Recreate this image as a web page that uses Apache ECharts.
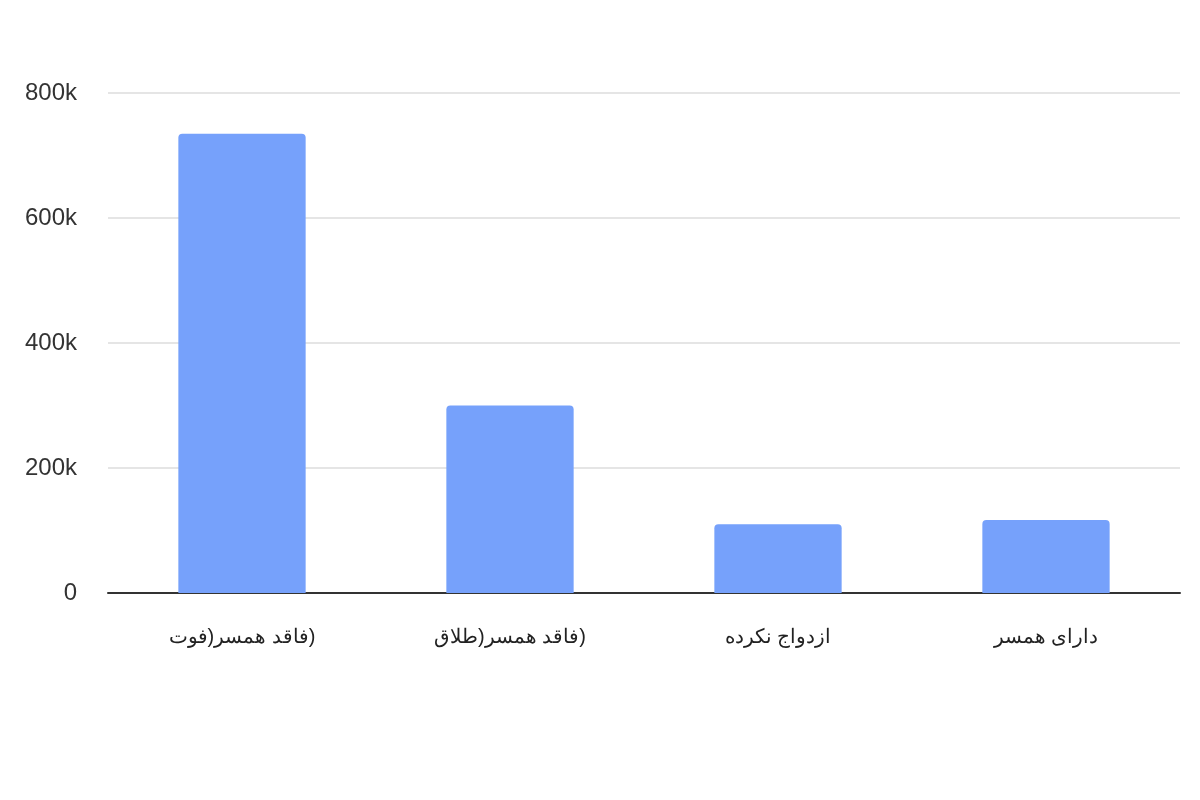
<!DOCTYPE html>
<html>
<head>
<meta charset="utf-8">
<script src="https://cdn.jsdelivr.net/npm/echarts@6/dist/echarts.min.js"></script>
<style>html,body{margin:0;padding:0;background:#fff}#c{width:1200px;height:800px}</style>
</head>
<body>
<div id="c"></div>
<script>
// closing parenthesis isolated so it renders at the far right, as in the reference
const categories = ['فاقد همسر(فوت\u2066)\u2069', 'فاقد همسر(طلاق\u2066)\u2069', 'ازدواج نکرده', 'دارای همسر'];
const values = [735000, 300000, 110000, 117000];
const yTicks = { min: 0, max: 800000, interval: 200000 };

const chart = echarts.init(document.getElementById('c'), null, { renderer: 'canvas' });
chart.setOption({
  animation: false,
  backgroundColor: '#ffffff',
  grid: { left: 108, right: 20, top: 93, bottom: 207, containLabel: false },
  xAxis: {
    type: 'category',
    data: categories,
    axisLine: { lineStyle: { color: '#333333', width: 2 } },
    axisTick: { show: false },
    axisLabel: { color: '#222222', fontSize: 20, fontFamily: 'Liberation Sans, Arial, sans-serif', margin: 34 }
  },
  yAxis: {
    type: 'value',
    min: yTicks.min, max: yTicks.max, interval: yTicks.interval,
    axisLine: { show: false },
    axisTick: { show: false },
    splitLine: { lineStyle: { color: '#dddddd', width: 1.5 } },
    axisLabel: {
      color: '#333333', fontSize: 24, fontFamily: 'Liberation Sans, Arial, sans-serif', margin: 31,
      padding: [12, 0, 0, 0],
      formatter: v => v === 0 ? '0' : (v / 1000) + 'k'
    }
  },
  series: [{
    type: 'bar',
    data: values,
    barWidth: '47.5%',
    itemStyle: { color: '#76a1fb', borderRadius: [4, 4, 0, 0] }
  }]
});
</script>
</body>
</html>
